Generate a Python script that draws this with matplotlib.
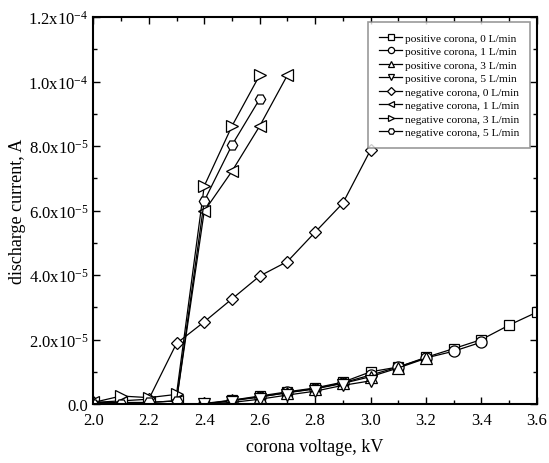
import matplotlib
matplotlib.use("Agg")
import matplotlib.pyplot as plt
from matplotlib.ticker import MultipleLocator, FixedLocator

plt.rcParams['font.family'] = ['Liberation Serif', 'DejaVu Serif']
plt.rcParams['mathtext.fontset'] = 'custom'
plt.rcParams['mathtext.rm'] = 'Liberation Serif'
plt.rcParams['mathtext.it'] = 'Liberation Serif:italic'

# positive corona
pos0_x = [2.4, 2.5, 2.6, 2.7, 2.8, 2.9, 3.0, 3.1, 3.2, 3.3, 3.4, 3.5, 3.6]
pos0_y = [0.0, 0.12, 0.25, 0.38, 0.5, 0.68, 1.0, 1.15, 1.45, 1.72, 2.0, 2.45, 2.85]
pos1_x = [2.4, 2.5, 2.6, 2.7, 2.8, 2.9, 3.0, 3.1, 3.2, 3.3, 3.4]
pos1_y = [0.0, 0.1, 0.22, 0.36, 0.48, 0.66, 0.9, 1.15, 1.43, 1.64, 1.92]
pos3_x = [2.4, 2.5, 2.6, 2.7, 2.8, 2.9, 3.0, 3.1, 3.2]
pos3_y = [0.02, 0.12, 0.22, 0.35, 0.47, 0.64, 0.85, 1.12, 1.42]
pos5_x = [2.4, 2.5, 2.6, 2.7, 2.8, 2.9, 3.0]
pos5_y = [0.0, 0.05, 0.15, 0.28, 0.4, 0.58, 0.72]
# negative corona
neg0_x = [2.0, 2.1, 2.2, 2.3, 2.4, 2.5, 2.6, 2.7, 2.8, 2.9, 3.0]
neg0_y = [0.05, 0.1, 0.15, 1.88, 2.55, 3.26, 3.97, 4.42, 5.33, 6.23, 7.88]
neg1_x = [2.0, 2.1, 2.2, 2.3, 2.4, 2.5, 2.6, 2.7]
neg1_y = [0.05, 0.05, 0.05, 0.1, 5.98, 7.22, 8.62, 10.2]
neg3_x = [2.0, 2.1, 2.2, 2.3, 2.4, 2.5, 2.6]
neg3_y = [0.05, 0.25, 0.2, 0.3, 6.76, 8.62, 10.2]
neg5_x = [2.0, 2.1, 2.2, 2.3, 2.4, 2.5, 2.6]
neg5_y = [0.0, 0.0, 0.05, 0.1, 6.3, 8.03, 9.46]

labels = ["positive corona, 0 L/min", "positive corona, 1 L/min",
          "positive corona, 3 L/min", "positive corona, 5 L/min",
          "negative corona, 0 L/min", "negative corona, 1 L/min",
          "negative corona, 3 L/min", "negative corona, 5 L/min"]
markers = ['s', 'o', '^', 'v', 'D', '<', '>', 'H']
sizes = [7, 8, 8, 8, 6.5, 8, 8, 7.5]
series = [(pos0_x, pos0_y), (pos1_x, pos1_y), (pos3_x, pos3_y), (pos5_x, pos5_y),
          (neg0_x, neg0_y), (neg1_x, neg1_y), (neg3_x, neg3_y), (neg5_x, neg5_y)]

yticks = [0, 2e-5, 4e-5, 6e-5, 8e-5, 1e-4, 1.2e-4]
ytick_labels = ["0.0", r"2.0x10$^{-5}$", r"4.0x10$^{-5}$", r"6.0x10$^{-5}$",
                r"8.0x10$^{-5}$", r"1.0x10$^{-4}$", r"1.2x10$^{-4}$"]

fig = plt.figure(figsize=(5.49, 4.64), dpi=100)
ax = fig.add_axes([0.170, 0.127, 0.808, 0.834])

for (xs, ys), m, lab, ms in zip(series, markers, labels, sizes):
    ax.plot(xs, [v * 1e-5 for v in ys], marker=m, color='black', lw=0.9,
            markerfacecolor='white', markeredgecolor='black', markeredgewidth=0.9,
            markersize=ms, label=lab)

ax.set_xlim(2.0, 3.6)
ax.set_ylim(0, 1.2e-4)
ax.xaxis.set_major_locator(MultipleLocator(0.2))
ax.xaxis.set_minor_locator(MultipleLocator(0.1))
ax.set_xticklabels([f"{v:.1f}" for v in ax.get_xticks()])
ax.yaxis.set_major_locator(FixedLocator(yticks))
ax.set_yticklabels(ytick_labels)
ax.yaxis.set_minor_locator(MultipleLocator(1e-5))
ax.tick_params(which='both', direction='in', top=True, right=True, labelsize=12)
ax.tick_params(which='major', length=5, width=1)
ax.tick_params(which='minor', length=3, width=1)
ax.tick_params(axis='x', pad=6)
for s in ax.spines.values():
    s.set_linewidth(1.5)

ax.set_xlabel("corona voltage, kV", fontsize=13, labelpad=7)
ax.set_ylabel("discharge current, A", fontsize=13, labelpad=2)

leg = ax.legend(loc='upper right', fontsize=8.2, frameon=True, fancybox=False,
                edgecolor='gray', handlelength=2.1, handletextpad=0.2,
                labelspacing=0.31, borderpad=0.95, borderaxespad=0.0,
                bbox_to_anchor=(0.984, 0.987))
leg.get_frame().set_linewidth(1.2)
for h in leg.legend_handles:
    h.set_markersize(4.5)

fig.savefig("out.png", dpi=100)
